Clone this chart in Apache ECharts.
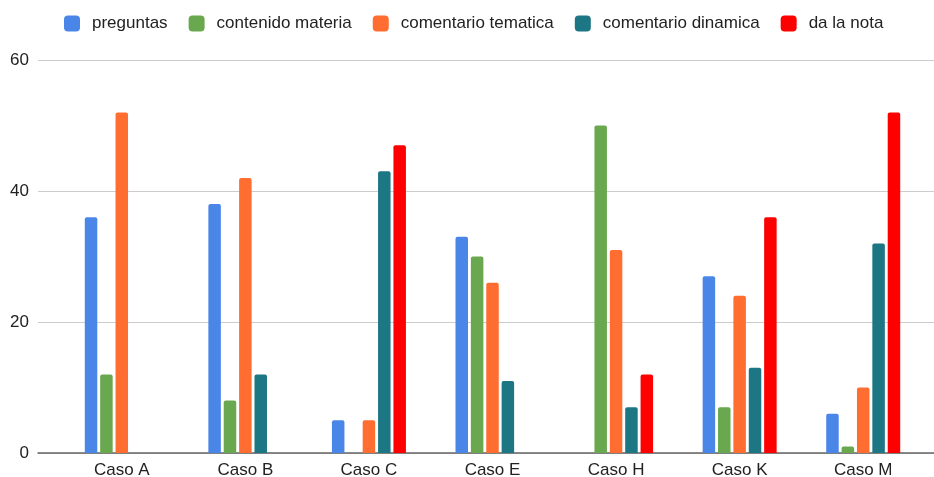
<!DOCTYPE html>
<html>
<head>
<meta charset="utf-8">
<script src="https://cdn.jsdelivr.net/npm/echarts@6/dist/echarts.min.js"></script>
<style>
  html, body { margin: 0; padding: 0; background: #fff; }
  #chart { width: 934px; height: 477px; }
</style>
</head>
<body>
<div id="chart"></div>
<script>
// Categories and series values
const categories = ['Caso A', 'Caso B', 'Caso C', 'Caso E', 'Caso H', 'Caso K', 'Caso M'];
const preguntas = [36, 38, 5, 33, 0, 27, 6];
const contenidoMateria = [12, 8, 0, 30, 50, 7, 1];
const comentarioTematica = [52, 42, 5, 26, 31, 24, 10];
const comentarioDinamica = [0, 12, 43, 11, 7, 13, 32];
const daLaNota = [0, 0, 47, 0, 12, 36, 52];
const seriesNames = ['preguntas', 'contenido materia', 'comentario tematica', 'comentario dinamica', 'da la nota'];
const yTicks = [0, 20, 40, 60];

const colors = ['#4A86E8', '#6AA84F', '#FF6D31', '#1D7684', '#FF0000'];
const seriesData = [preguntas, contenidoMateria, comentarioTematica, comentarioDinamica, daLaNota];
const FONT = '"Liberation Sans", Arial, sans-serif';

const chart = echarts.init(document.getElementById('chart'), null, { renderer: 'canvas' });

const yMin = yTicks[0];
const yMax = yTicks[yTicks.length - 1];
const yStep = yTicks[1] - yTicks[0];

chart.setOption({
  animation: false,
  color: colors,
  textStyle: { fontFamily: FONT },
  legend: {
    top: 10,
    left: 59,
    icon: 'roundRect',
    itemWidth: 16,
    itemHeight: 16,
    itemGap: 21,
    textStyle: { fontSize: 17, color: '#222', fontFamily: FONT, padding: [0, 0, 0, 7] },
    data: seriesNames
  },
  grid: [
    // full-width grid carrying the gridlines, y labels and baseline
    { left: 38, right: 0, top: 60, bottom: 24, containLabel: false, outerBoundsMode: 'none' },
    // inner grid where category bands sit
    { left: 60, right: 9, top: 60, bottom: 24, containLabel: false, outerBoundsMode: 'none' }
  ],
  xAxis: [
    {
      gridIndex: 0, type: 'value', min: 0, max: 1,
      axisLine: { show: true, lineStyle: { color: '#666', width: 1.5 } },
      axisTick: { show: false }, axisLabel: { show: false }, splitLine: { show: false }
    },
    {
      gridIndex: 1, type: 'category', data: categories,
      axisLine: { show: false }, axisTick: { show: false },
      axisLabel: { fontSize: 17, color: '#222', margin: 9, fontFamily: FONT }
    }
  ],
  yAxis: [
    {
      gridIndex: 0, type: 'value', min: yMin, max: yMax, interval: yStep,
      axisLine: { show: false }, axisTick: { show: false },
      axisLabel: { fontSize: 17, color: '#222', margin: 9, fontFamily: FONT },
      splitLine: { lineStyle: { color: '#cccccc', width: 1 } }
    },
    {
      gridIndex: 1, type: 'value', min: yMin, max: yMax, interval: yStep, show: false
    }
  ],
  series: seriesNames.map((name, i) => ({
    name: name,
    type: 'bar',
    xAxisIndex: 1,
    yAxisIndex: 1,
    data: seriesData[i],
    barWidth: 12.5,
    barGap: '23%',
    itemStyle: { color: colors[i], borderRadius: [2, 2, 0, 0] }
  }))
});
</script>
</body>
</html>
